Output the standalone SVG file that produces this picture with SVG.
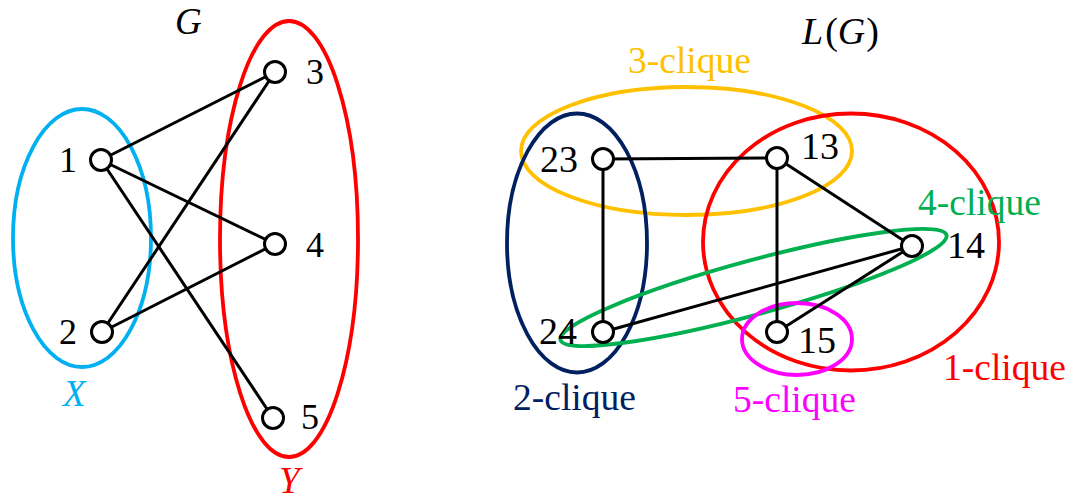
<svg xmlns="http://www.w3.org/2000/svg" width="1073" height="502" viewBox="0 0 1073 502">
<style>
.bg{fill:#ffffff}
.grp{fill:none;stroke-width:3.8}
.edge{stroke:#000;stroke-width:3;fill:none}
.node{fill:#fff;stroke:#000;stroke-width:3}
.lbl{font-family:"Liberation Serif",serif;font-size:38px;fill:#000}
.lbl-s{font-family:"Liberation Serif",serif;font-size:36px;fill:#000}
.it{font-family:"Liberation Serif",serif;font-style:italic;font-size:37px}
.cq{font-family:"Liberation Serif",serif;font-size:37.5px}
</style>
<rect class="bg" x="0" y="0" width="1073" height="502"/>

<g id="sets">
  <ellipse id="set-X" class="grp" cx="82" cy="238" rx="69" ry="129" stroke="#00B0F0"/>
  <ellipse id="set-Y" class="grp" cx="289" cy="239" rx="69" ry="218" stroke="#FF0000"/>
  <ellipse id="clique-3" class="grp" cx="686.5" cy="151" rx="165.5" ry="64" stroke="#FFC000"/>
  <ellipse id="clique-2" class="grp" cx="577" cy="243" rx="70" ry="129.5" stroke="#002060"/>
  <ellipse id="clique-1" class="grp" cx="851" cy="242" rx="148" ry="128.5" stroke="#FF0000"/>
  <ellipse id="clique-4" class="grp" cx="753.5" cy="287.5" rx="200" ry="27" transform="rotate(-15.2 753.5 287.5)" stroke="#00B050"/>
  <ellipse id="clique-5" class="grp" cx="797" cy="339" rx="55" ry="36" stroke="#FF00FF"/>
</g>

<g id="connectors">
  <line class="edge" x1="101" y1="160" x2="275" y2="72"/>
  <line class="edge" x1="101" y1="160" x2="275" y2="244"/>
  <line class="edge" x1="101" y1="160" x2="273" y2="418"/>
  <line class="edge" x1="102" y1="332" x2="275" y2="72"/>
  <line class="edge" x1="102" y1="332" x2="275" y2="244"/>
  <line class="edge" x1="603" y1="159" x2="777" y2="158"/>
  <line class="edge" x1="603" y1="159" x2="603" y2="332"/>
  <line class="edge" x1="777" y1="158" x2="777" y2="332"/>
  <line class="edge" x1="777" y1="158" x2="912" y2="246"/>
  <line class="edge" x1="603" y1="332" x2="912" y2="246"/>
  <line class="edge" x1="777" y1="332" x2="912" y2="246"/>
</g>

<g id="node-1"><circle class="node" cx="101" cy="160" r="10.5"/><text class="lbl-s" x="59" y="172">1</text></g>
<g id="node-2"><circle class="node" cx="102" cy="332" r="10.5"/><text class="lbl-s" x="59" y="344">2</text></g>
<g id="node-3"><circle class="node" cx="275" cy="72" r="10.5"/><text class="lbl-s" x="306" y="84">3</text></g>
<g id="node-4"><circle class="node" cx="275" cy="244" r="10.5"/><text class="lbl-s" x="306" y="257">4</text></g>
<g id="node-5"><circle class="node" cx="273" cy="418" r="10.5"/><text class="lbl-s" x="301" y="429">5</text></g>

<g id="node-23"><circle class="node" cx="603" cy="159" r="10.5"/><text class="lbl" x="540" y="172">23</text></g>
<g id="node-13"><circle class="node" cx="777" cy="158" r="10.5"/><text class="lbl" x="801" y="159">13</text></g>
<g id="node-14"><circle class="node" cx="912" cy="246" r="10.5"/><text class="lbl" x="947" y="258">14</text></g>
<g id="node-24"><circle class="node" cx="603" cy="332" r="10.5"/><text class="lbl" x="539" y="344">24</text></g>
<g id="node-15"><circle class="node" cx="777" cy="332" r="10.5"/><text class="lbl" x="798" y="353">15</text></g>

<g id="labels">
  <text class="it" x="175" y="34" fill="#000">G</text>
  <text class="it" x="63" y="406" fill="#00B0F0">X</text>
  <text class="it" x="279" y="493" fill="#FF0000">Y</text>
  <text x="802" y="44" font-family="'Liberation Serif',serif" font-size="38" fill="#000"><tspan font-style="italic">L</tspan><tspan dx="2">(</tspan><tspan font-style="italic">G</tspan><tspan dx="1">)</tspan></text>
  <text class="cq" x="628" y="73" fill="#FFC000">3-clique</text>
  <text class="cq" x="918" y="215" fill="#00B050">4-clique</text>
  <text class="cq" x="943" y="380" fill="#FF0000">1-clique</text>
  <text class="cq" x="513" y="410" fill="#002060">2-clique</text>
  <text class="cq" x="733" y="412" fill="#FF00FF">5-clique</text>
</g>
</svg>
